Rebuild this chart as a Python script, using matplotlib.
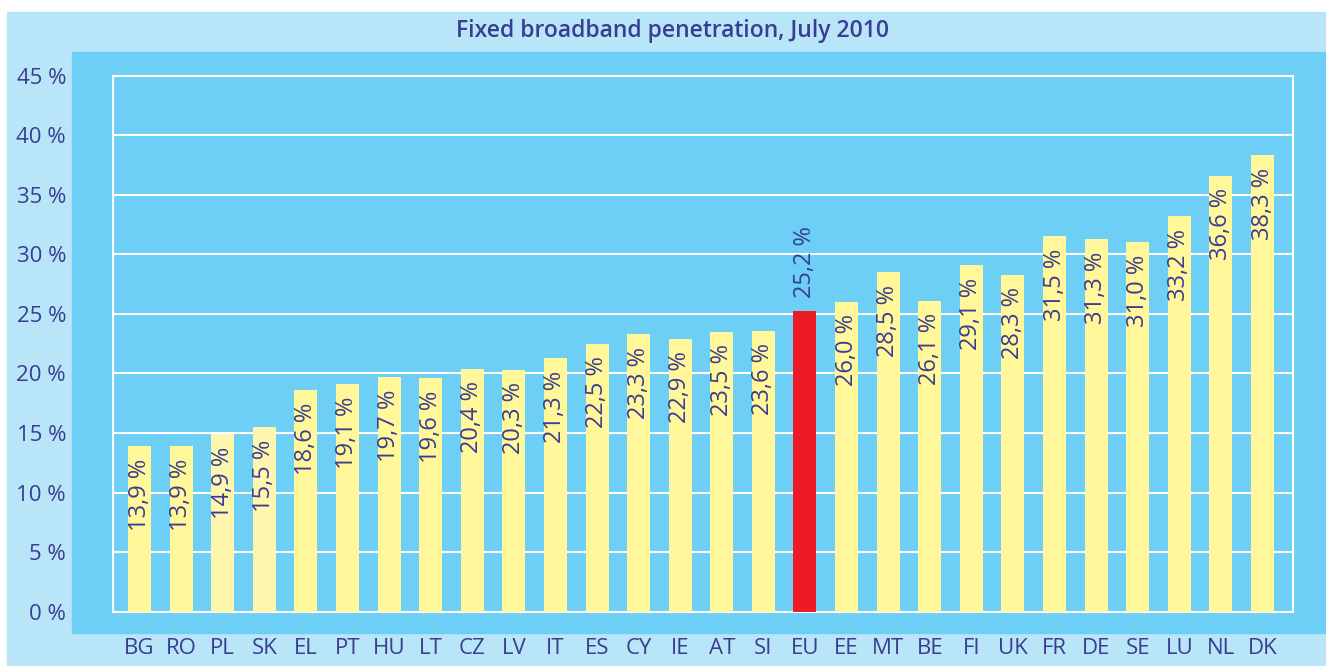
import matplotlib
matplotlib.use("Agg")
import matplotlib.pyplot as plt
from matplotlib.patches import Rectangle

plt.rcParams["font.family"] = ["Open Sans", "DejaVu Sans"]

countries = ["BG", "RO", "PL", "SK", "EL", "PT", "HU", "LT", "CZ", "LV",
             "IT", "ES", "CY", "IE", "AT", "SI", "EU", "EE", "MT", "BE",
             "FI", "UK", "FR", "DE", "SE", "LU", "NL", "DK"]
penetration = [13.9, 13.9, 14.9, 15.5, 18.6, 19.1, 19.7, 19.6, 20.4, 20.3,
               21.3, 22.5, 23.3, 22.9, 23.5, 23.6, 25.2, 26.0, 28.5, 26.1,
               29.1, 28.3, 31.5, 31.3, 31.0, 33.2, 36.6, 38.3]
y_ticks = [0, 5, 10, 15, 20, 25, 30, 35, 40, 45]

W, H = 1326, 666
NAVY = "#3a3d91"
LIGHT = "#b9e5f9"
DARK = "#6dcff6"
YELLOW = "#fff799"
PALE = "#fff6ad"
RED = "#ed1c24"


def fx(px):
    return px / W


def fy(py):
    return 1 - py / H


fig = plt.figure(figsize=(W / 100, H / 100), dpi=100)
fig.patch.set_facecolor("white")
# light outer panel and darker plot band, in pixel coords
fig.patches.append(Rectangle((fx(7), fy(665)), fx(1326 - 7), (665 - 12) / H,
                             transform=fig.transFigure, color=LIGHT,
                             zorder=-2))
fig.patches.append(Rectangle((fx(72), fy(633)), fx(1326 - 72), (633 - 52) / H,
                             transform=fig.transFigure, color=DARK,
                             zorder=-1))
fig.text(fx(672), fy(31), "Fixed broadband penetration, July 2010",
         ha="center", va="center", fontsize=16.5, color=NAVY,
         fontweight="semibold")

ax = fig.add_axes([fx(113.3), fy(611.7), fx(1293.3 - 113.3),
                   (611.7 - 75.6) / H])
ax.set_zorder(1)
ax.set_facecolor(DARK)

colors = []
for c in countries:
    if c == "EU":
        colors.append(RED)
    elif c in ("PL", "SK"):
        colors.append(PALE)
    else:
        colors.append(YELLOW)

x = list(range(len(countries)))
ax.bar(x, penetration, width=0.553, color=colors, zorder=3)

for i, v in enumerate(penetration):
    label = f"{v:.1f} %".replace(".", ",")
    if countries[i] == "EU":
        ax.annotate(label, (i, v), xytext=(0, 10), textcoords="offset points",
                    rotation=90, ha="center", va="bottom", fontsize=17,
                    color=NAVY, zorder=4)
    else:
        ax.annotate(label, (i, v), xytext=(0, -9), textcoords="offset points",
                    rotation=90, ha="center", va="top", fontsize=17,
                    color=NAVY, zorder=4)

ax.set_xlim(-0.63, 27.74)
ax.set_ylim(0, 45)
ax.set_yticks(y_ticks)
ax.set_yticklabels([f"{t} %" for t in y_ticks])
ax.set_xticks(x)
ax.set_xticklabels(countries)
ax.tick_params(axis="y", length=0, pad=34, labelsize=16, labelcolor=NAVY)
ax.tick_params(axis="x", length=0, pad=19, labelsize=16, labelcolor=NAVY)
ax.grid(axis="y", color="white", linewidth=1.5, zorder=1)
ax.set_axisbelow(True)
for s in ax.spines.values():
    s.set_color("white")
    s.set_linewidth(1.5)

fig.savefig("out.png", dpi=100, facecolor=fig.get_facecolor())
